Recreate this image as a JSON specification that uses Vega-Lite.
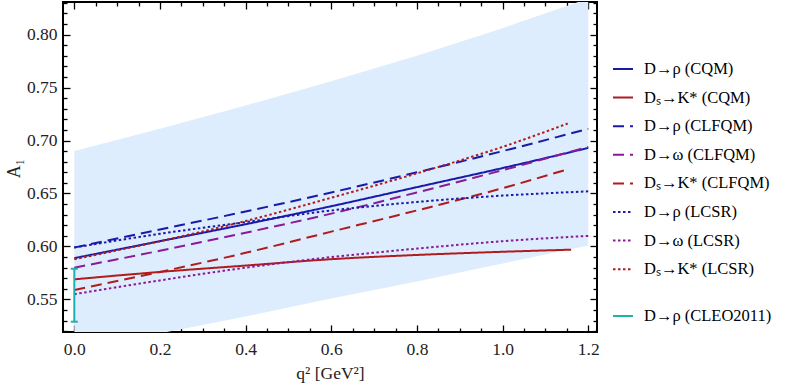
{
  "$schema": "https://vega.github.io/schema/vega-lite/v6.json",
  "autosize": {"type": "none"},
  "padding": {"left": 63, "top": 2, "right": 196, "bottom": 53},
  "width": 534,
  "height": 330,
  "config": {
    "view": {"stroke": "black", "strokeWidth": 2},
    "font": "Liberation Serif",
    "axis": {"labelFont": "Liberation Serif", "titleFont": "Liberation Serif", "labelColor": "#222222", "titleColor": "#222222", "grid": false, "domain": false, "tickColor": "black", "tickWidth": 1.3},
    "legend": {"labelFont": "Liberation Serif", "labelFontSize": 16.5, "labelColor": "black"}
  },
  "datasets": {
    "band": [
      {"x": 0.0, "lo": 0.502, "hi": 0.690},
      {"x": 0.2, "lo": 0.518, "hi": 0.711},
      {"x": 0.4, "lo": 0.534, "hi": 0.733},
      {"x": 0.6, "lo": 0.551, "hi": 0.756},
      {"x": 0.8, "lo": 0.567, "hi": 0.780},
      {"x": 1.0, "lo": 0.584, "hi": 0.806},
      {"x": 1.2, "lo": 0.601, "hi": 0.834}
    ],
    "lines": [
      {"s": "D→ρ (CQM)", "x": 0.0, "y": 0.589},
      {"s": "D→ρ (CQM)", "x": 0.2, "y": 0.605},
      {"s": "D→ρ (CQM)", "x": 0.4, "y": 0.621},
      {"s": "D→ρ (CQM)", "x": 0.6, "y": 0.638},
      {"s": "D→ρ (CQM)", "x": 0.8, "y": 0.656},
      {"s": "D→ρ (CQM)", "x": 1.0, "y": 0.674},
      {"s": "D→ρ (CQM)", "x": 1.2, "y": 0.693},
      {"s": "Dₛ→K* (CQM)", "x": 0.0, "y": 0.569},
      {"s": "Dₛ→K* (CQM)", "x": 0.2, "y": 0.576},
      {"s": "Dₛ→K* (CQM)", "x": 0.4, "y": 0.582},
      {"s": "Dₛ→K* (CQM)", "x": 0.6, "y": 0.588},
      {"s": "Dₛ→K* (CQM)", "x": 0.8, "y": 0.592},
      {"s": "Dₛ→K* (CQM)", "x": 1.0, "y": 0.595},
      {"s": "Dₛ→K* (CQM)", "x": 1.16, "y": 0.597},
      {"s": "D→ρ (CLFQM)", "x": 0.0, "y": 0.599},
      {"s": "D→ρ (CLFQM)", "x": 0.2, "y": 0.616},
      {"s": "D→ρ (CLFQM)", "x": 0.4, "y": 0.633},
      {"s": "D→ρ (CLFQM)", "x": 0.6, "y": 0.651},
      {"s": "D→ρ (CLFQM)", "x": 0.8, "y": 0.670},
      {"s": "D→ρ (CLFQM)", "x": 1.0, "y": 0.690},
      {"s": "D→ρ (CLFQM)", "x": 1.2, "y": 0.711},
      {"s": "D→ω (CLFQM)", "x": 0.0, "y": 0.580},
      {"s": "D→ω (CLFQM)", "x": 0.2, "y": 0.596},
      {"s": "D→ω (CLFQM)", "x": 0.4, "y": 0.613},
      {"s": "D→ω (CLFQM)", "x": 0.6, "y": 0.631},
      {"s": "D→ω (CLFQM)", "x": 0.8, "y": 0.651},
      {"s": "D→ω (CLFQM)", "x": 1.0, "y": 0.672},
      {"s": "D→ω (CLFQM)", "x": 1.2, "y": 0.694},
      {"s": "Dₛ→K* (CLFQM)", "x": 0.0, "y": 0.559},
      {"s": "Dₛ→K* (CLFQM)", "x": 0.2, "y": 0.576},
      {"s": "Dₛ→K* (CLFQM)", "x": 0.4, "y": 0.594},
      {"s": "Dₛ→K* (CLFQM)", "x": 0.6, "y": 0.614},
      {"s": "Dₛ→K* (CLFQM)", "x": 0.8, "y": 0.634},
      {"s": "Dₛ→K* (CLFQM)", "x": 1.0, "y": 0.655},
      {"s": "Dₛ→K* (CLFQM)", "x": 1.145, "y": 0.672},
      {"s": "D→ρ (LCSR)", "x": 0.0, "y": 0.599},
      {"s": "D→ρ (LCSR)", "x": 0.2, "y": 0.612},
      {"s": "D→ρ (LCSR)", "x": 0.4, "y": 0.623},
      {"s": "D→ρ (LCSR)", "x": 0.6, "y": 0.634},
      {"s": "D→ρ (LCSR)", "x": 0.8, "y": 0.642},
      {"s": "D→ρ (LCSR)", "x": 1.0, "y": 0.648},
      {"s": "D→ρ (LCSR)", "x": 1.2, "y": 0.652},
      {"s": "D→ω (LCSR)", "x": 0.0, "y": 0.555},
      {"s": "D→ω (LCSR)", "x": 0.2, "y": 0.568},
      {"s": "D→ω (LCSR)", "x": 0.4, "y": 0.580},
      {"s": "D→ω (LCSR)", "x": 0.6, "y": 0.590},
      {"s": "D→ω (LCSR)", "x": 0.8, "y": 0.598},
      {"s": "D→ω (LCSR)", "x": 1.0, "y": 0.605},
      {"s": "D→ω (LCSR)", "x": 1.2, "y": 0.610},
      {"s": "Dₛ→K* (LCSR)", "x": 0.0, "y": 0.588},
      {"s": "Dₛ→K* (LCSR)", "x": 0.2, "y": 0.605},
      {"s": "Dₛ→K* (LCSR)", "x": 0.4, "y": 0.624},
      {"s": "Dₛ→K* (LCSR)", "x": 0.6, "y": 0.646},
      {"s": "Dₛ→K* (LCSR)", "x": 0.8, "y": 0.669},
      {"s": "Dₛ→K* (LCSR)", "x": 1.0, "y": 0.694},
      {"s": "Dₛ→K* (LCSR)", "x": 1.152, "y": 0.716}
    ],
    "cleo": [
      {"name": "D→ρ (CLEO2011)", "x": 0.0, "lo": 0.529, "hi": 0.579}
    ],
    "caps": [
      {"x": 0.0, "y": 0.529},
      {"x": 0.0, "y": 0.579}
    ]
  },
  "layer": [
    {
      "data": {"name": "band"},
      "mark": {"type": "area", "color": "#ddedfd", "clip": true},
      "encoding": {
        "x": {"field": "x", "type": "quantitative", "scale": {"domain": [-0.0264, 1.2204], "nice": false, "zero": false},
          "axis": {"orient": "bottom", "values": [0, 0.2, 0.4, 0.6, 0.8, 1.0, 1.2], "format": ".1f", "ticks": false, "labelFontSize": 17.5, "labelPadding": 8, "title": "q² [GeV²]", "titleFontSize": 17.5, "titleFontWeight": "normal", "titlePadding": 7}},
        "y": {"field": "lo", "type": "quantitative", "scale": {"domain": [0.5193, 0.8307], "nice": false, "zero": false},
          "axis": {"orient": "left", "values": [0.55, 0.6, 0.65, 0.7, 0.75, 0.8], "format": ".2f", "ticks": false, "labelFontSize": 17.5, "labelPadding": 6, "title": "A₁", "titleFontSize": 18, "titleFontWeight": "normal", "titleAngle": -90, "titleX": -40, "titleY": 166}},
        "y2": {"field": "hi"}
      }
    },
    {
      "data": {"name": "lines"},
      "mark": {"type": "line", "strokeWidth": 2, "interpolate": "monotone"},
      "encoding": {
        "x": {"field": "x", "type": "quantitative",
          "axis": {"orient": "bottom", "labels": false, "title": null, "values": [0,0.05,0.1,0.15,0.2,0.25,0.3,0.35,0.4,0.45,0.5,0.55,0.6,0.65,0.7,0.75,0.8,0.85,0.9,0.95,1.0,1.05,1.1,1.15,1.2],
            "tickSize": {"condition": {"test": "round(datum.value*100)%20===0", "value": -7}, "value": -4}}},
        "y": {"field": "y", "type": "quantitative",
          "axis": {"orient": "left", "labels": false, "title": null, "values": [0.52,0.53,0.54,0.55,0.56,0.57,0.58,0.59,0.6,0.61,0.62,0.63,0.64,0.65,0.66,0.67,0.68,0.69,0.7,0.71,0.72,0.73,0.74,0.75,0.76,0.77,0.78,0.79,0.8,0.81,0.82,0.83],
            "tickSize": {"condition": {"test": "round(datum.value*100)%5===0", "value": -7}, "value": -4}}},
        "color": {"field": "s", "type": "nominal",
          "scale": {"domain": ["D→ρ (CQM)", "Dₛ→K* (CQM)", "D→ρ (CLFQM)", "D→ω (CLFQM)", "Dₛ→K* (CLFQM)", "D→ρ (LCSR)", "D→ω (LCSR)", "Dₛ→K* (LCSR)"],
            "range": ["#1a1aa8", "#b01c1c", "#1a1aa8", "#8a1a96", "#b01c1c", "#1a1aa8", "#8a1a96", "#b01c1c"]},
          "legend": {"title": null, "orient": "none", "legendX": 549, "legendY": 56, "symbolType": "stroke", "symbolSize": 400, "symbolStrokeWidth": 2, "rowPadding": 8.6, "labelOffset": 10, "padding": 0}},
        "strokeDash": {"field": "s", "type": "nominal",
          "scale": {"domain": ["D→ρ (CQM)", "Dₛ→K* (CQM)", "D→ρ (CLFQM)", "D→ω (CLFQM)", "Dₛ→K* (CLFQM)", "D→ρ (LCSR)", "D→ω (LCSR)", "Dₛ→K* (LCSR)"],
            "range": [[1, 0], [1, 0], [11, 6], [11, 6], [11, 6], [2.5, 2.5], [2.5, 2.5], [2.5, 2.5]]},
          "legend": {"title": null, "orient": "none", "legendX": 549, "legendY": 56, "symbolType": "stroke", "symbolSize": 400, "symbolStrokeWidth": 2, "rowPadding": 8.6, "labelOffset": 10, "padding": 0}}
      }
    },
    {
      "data": {"name": "cleo"},
      "mark": {"type": "rule", "strokeWidth": 2},
      "encoding": {
        "x": {"field": "x", "type": "quantitative",
          "axis": {"orient": "top", "labels": false, "title": null, "values": [0,0.05,0.1,0.15,0.2,0.25,0.3,0.35,0.4,0.45,0.5,0.55,0.6,0.65,0.7,0.75,0.8,0.85,0.9,0.95,1.0,1.05,1.1,1.15,1.2],
            "tickSize": {"condition": {"test": "round(datum.value*100)%20===0", "value": -7}, "value": -4}}},
        "y": {"field": "lo", "type": "quantitative",
          "axis": {"orient": "right", "labels": false, "title": null, "values": [0.52,0.53,0.54,0.55,0.56,0.57,0.58,0.59,0.6,0.61,0.62,0.63,0.64,0.65,0.66,0.67,0.68,0.69,0.7,0.71,0.72,0.73,0.74,0.75,0.76,0.77,0.78,0.79,0.8,0.81,0.82,0.83],
            "tickSize": {"condition": {"test": "round(datum.value*100)%5===0", "value": -7}, "value": -4}}},
        "y2": {"field": "hi"},
        "stroke": {"field": "name", "type": "nominal", "scale": {"range": ["#1fb0b0"]},
          "legend": {"title": null, "orient": "none", "legendX": 549, "legendY": 303, "symbolType": "stroke", "symbolSize": 400, "symbolStrokeWidth": 2, "labelOffset": 10, "padding": 0}}
      }
    },
    {
      "data": {"name": "caps"},
      "mark": {"type": "point", "shape": "stroke", "size": 49, "strokeWidth": 2, "color": "#1fb0b0", "opacity": 1},
      "encoding": {
        "x": {"field": "x", "type": "quantitative", "axis": null},
        "y": {"field": "y", "type": "quantitative", "axis": null}
      }
    }
  ],
  "resolve": {"axis": {"x": "independent", "y": "independent"}}
}
